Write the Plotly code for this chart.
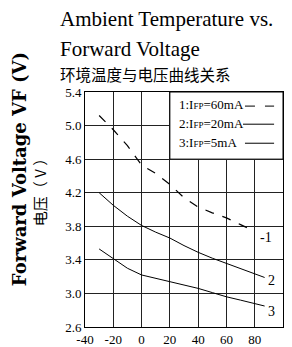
import plotly.graph_objects as go

# ---- data ----
temp1 = [-30, -20, -10, 0, 10, 20, 30, 40, 50, 60, 70, 80]
vf_60mA = [5.12, 4.95, 4.76, 4.53, 4.43, 4.30, 4.14, 4.03, 3.96, 3.90, 3.82, 3.74]
temp2 = [-30, -20, -10, 0, 10, 20, 30, 40, 50, 60, 70, 80, 87]
vf_20mA = [4.20, 4.05, 3.92, 3.81, 3.73, 3.66, 3.57, 3.49, 3.42, 3.36, 3.30, 3.24, 3.19]
temp3 = [-30, -20, -10, 0, 10, 20, 30, 40, 50, 60, 70, 80, 87]
vf_5mA = [3.53, 3.42, 3.30, 3.22, 3.18, 3.14, 3.10, 3.06, 3.01, 2.96, 2.92, 2.88, 2.85]
x_ticks = [-40, -20, 0, 20, 40, 60, 80, 100]
y_ticks = [2.6, 3.0, 3.4, 3.8, 4.2, 4.6, 5.0, 5.4]
legend_labels = ["1:I<span style='font-size:9px'>FP</span>=60mA",
                 "2:I<span style='font-size:9px'>FP</span>=20mA",
                 "3:I<span style='font-size:9px'>FP</span>=5mA"]
curve_labels = ["1", "2", "3"]

SERIF = "Liberation Serif"
CJK = "Noto Sans CJK SC"

fig = go.Figure()
line_style = dict(color="black", width=1)
fig.add_trace(go.Scatter(x=temp1, y=vf_60mA, mode="lines",
                         line=dict(color="black", width=1.2, dash="9px,9px"), showlegend=False))
fig.add_trace(go.Scatter(x=temp2, y=vf_20mA, mode="lines", line=line_style, showlegend=False))
fig.add_trace(go.Scatter(x=temp3, y=vf_5mA, mode="lines", line=line_style, showlegend=False))

# legend box (covers grid in upper right)
fig.add_shape(type="rect", xref="x", yref="y", x0=20, x1=100, y0=4.6, y1=5.4,
              fillcolor="white", line=dict(color="black", width=1), layer="above")

leg_y = [0.945, 0.868, 0.787]
leg_dash = ["10px,10px", "solid", "solid"]
leg_x0 = [0.808, 0.798, 0.808]
for i in range(3):
    fig.add_annotation(xref="paper", yref="paper", x=0.465, y=leg_y[i], xanchor="left",
                       yanchor="middle", text=legend_labels[i], showarrow=False,
                       font=dict(family=SERIF, size=13, color="black"))
    fig.add_shape(type="line", xref="paper", yref="paper", x0=leg_x0[i], x1=0.955,
                  y0=leg_y[i] - 0.005, y1=leg_y[i] - 0.005,
                  line=dict(color="black", width=1, dash=leg_dash[i]), layer="above")

# curve end labels
ends = [(temp1[-1], vf_60mA[-1]), (temp2[-1], vf_20mA[-1]), (temp3[-1], vf_5mA[-1])]
shifts = [(3, -6), (1, -3), (1, -5)]
for (xe, ye), lab, (dx, dy) in zip(ends, curve_labels, shifts):
    fig.add_annotation(x=xe, y=ye, text=("-" if lab == "1" else "") + lab, showarrow=False,
                       xanchor="left", yanchor="middle", xshift=dx, yshift=dy,
                       font=dict(family=SERIF, size=14, color="black"))

# titles
fig.add_annotation(xref="paper", yref="paper", x=-0.135, y=1.311, xanchor="left", yanchor="middle",
                   text="Ambient Temperature vs.", showarrow=False,
                   font=dict(family=SERIF, size=21, color="black"))
fig.add_annotation(xref="paper", yref="paper", x=-0.135, y=1.183, xanchor="left", yanchor="middle",
                   text="Forward Voltage", showarrow=False,
                   font=dict(family=SERIF, size=21, color="black"))
fig.add_annotation(xref="paper", yref="paper", x=-0.135, y=1.075, xanchor="left", yanchor="middle",
                   text="环境温度与电压曲线关系", showarrow=False,
                   font=dict(family=CJK, size=15.5, color="black"))
fig.add_annotation(xref="paper", yref="paper", x=-0.333, y=0.672, xanchor="center", yanchor="middle",
                   text="<b>Forward Voltage VF (V)</b>", textangle=-90, showarrow=False,
                   font=dict(family="DejaVu Serif", size=18, color="black"))
fig.add_annotation(xref="paper", yref="paper", x=-0.233, y=0.590, xanchor="center", yanchor="middle",
                   text="电压（ V ）", textangle=-90, showarrow=False,
                   font=dict(family=CJK, size=15, color="black"))

axis_common = dict(showline=True, mirror=True, linecolor="black", linewidth=1,
                   showgrid=True, gridcolor="#222", gridwidth=1, zeroline=False,
                   automargin=False, ticks="",
                   tickfont=dict(family=SERIF, size=13, color="black"))
fig.update_xaxes(range=[-40, 100], tickvals=x_ticks, ticktext=[str(v) for v in x_ticks], **axis_common)
fig.update_yaxes(range=[2.6, 5.4], tickvals=y_ticks, ticktext=[f"{v:.1f}" for v in y_ticks], **axis_common)

fig.update_layout(width=292, height=347, margin=dict(l=85, r=9, t=92, b=20, autoexpand=False),
                  paper_bgcolor="white", plot_bgcolor="white", showlegend=False)

fig.write_html("out.html", config={"displayModeBar": False},
               post_script="document.body.style.margin='0px';document.body.style.padding='0px';")
